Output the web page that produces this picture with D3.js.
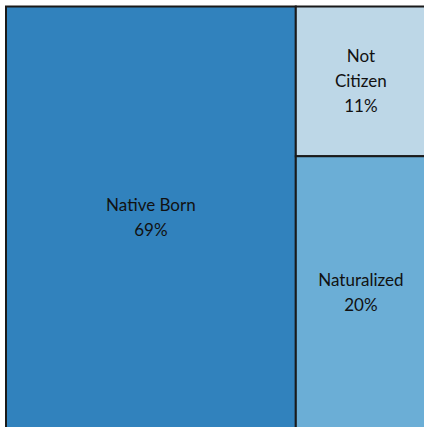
<!DOCTYPE html>
<html>
<head>
<meta charset="utf-8">
<script src="https://cdn.jsdelivr.net/npm/d3@7"></script>
<style>
  html, body { margin: 0; padding: 0; background: #ffffff; overflow: hidden; }
  svg { display: block; }
</style>
</head>
<body>
<svg id="chart" width="424" height="427"></svg>
<script>
// Citizenship status shares (percent)
const groups = ["Native Born", "Foreign Born"];
const categories = ["Native Born", "Not Citizen", "Naturalized"];
const shares = [69, 11, 20];
const labelLines = [["Native Born"], ["Not", "Citizen"], ["Naturalized"]];
const colors = ["#3182bd", "#bdd7e7", "#6baed6"];

const svg = d3.select("#chart");
const offsetX = 6, offsetY = 6.5, plotW = 420, plotH = 422;

// Two-level hierarchy: native born vs. foreign born (split by status)
const tree = {
  name: "root",
  children: [
    { name: categories[0], value: shares[0], idx: 0 },
    {
      name: groups[1],
      children: [
        { name: categories[1], value: shares[1], idx: 1 },
        { name: categories[2], value: shares[2], idx: 2 }
      ]
    }
  ]
};

const root = d3.hierarchy(tree).sum(d => d.value || 0);

d3.treemap()
  .size([plotW, plotH])
  .paddingInner(0)
  .tile(d3.treemapSliceDice)(root);

const color = d3.scaleOrdinal().domain(categories).range(colors);

const g = svg.append("g").attr("transform", `translate(${offsetX},${offsetY})`);

const leaves = g.selectAll("g.leaf")
  .data(root.leaves())
  .join("g")
  .attr("class", "leaf");

leaves.append("rect")
  .attr("x", d => d.x0)
  .attr("y", d => d.y0)
  .attr("width", d => d.x1 - d.x0)
  .attr("height", d => d.y1 - d.y0)
  .attr("fill", d => color(d.data.name))
  .attr("stroke", "#1a1a1a")
  .attr("stroke-width", 2);

const lineH = 25;
leaves.each(function(d) {
  const lines = labelLines[d.data.idx].concat([d3.format(".0f")(d.data.value) + "%"]);
  const cx = (d.x0 + d.x1) / 2;
  const cy = (d.y0 + d.y1) / 2;
  const t = d3.select(this).append("text")
    .attr("text-anchor", "middle")
    .attr("font-family", "Lato, 'Open Sans', sans-serif")
    .attr("font-size", 17)
    .attr("fill", "#111");
  lines.forEach((s, i) => {
    t.append("tspan")
      .attr("x", cx)
      .attr("y", cy + (i - (lines.length - 1) / 2) * lineH)
      .attr("dy", "0.35em")
      .text(s);
  });
});
</script>
</body>
</html>
